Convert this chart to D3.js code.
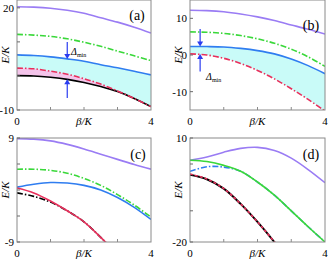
<!DOCTYPE html>
<html>
<head>
<meta charset="utf-8">
<script src="https://cdn.jsdelivr.net/npm/d3@7"></script>
<style>
  body { margin: 0; background: #fff; }
  svg { display: block; }
  text { font-family: "Liberation Serif", "DejaVu Serif", serif; fill: #000; }
</style>
</head>
<body>
<div id="viz"></div>
<script>
// beta/K sample points shared by every panel
var beta = [0, 0.5, 1, 1.5, 2, 2.5, 3, 3.5, 4];

// panel (a) energy levels E/K
var aPurple = [20.3, 20.2, 19.9, 19.3, 18.4, 17.1, 15.8, 14.3, 12.6];
var aGreen  = [12.2, 12.0, 11.6, 10.9, 9.9, 8.7, 7.3, 5.9, 4.5];
var aBlue   = [6.2, 6.0, 5.6, 5.0, 4.3, 3.3, 2.4, 1.4, 0.3];
var aRed    = [2.3, 2.1, 1.4, 0.5, -0.8, -2.4, -4.4, -6.6, -9.0];
var aBlack  = [0.1, 0.0, -0.4, -1.0, -1.9, -3.1, -4.6, -6.6, -9.0];

// panel (b)
var bPurple = [12.2, 12.1, 11.8, 11.2, 10.4, 9.4, 8.2, 7.0, 5.7];
var bGreen  = [6.3, 6.2, 5.9, 5.3, 4.4, 3.2, 1.6, -0.5, -3.1];
var bBlue   = [2.3, 2.3, 2.2, 1.8, 1.2, 0.3, -1.1, -2.9, -5.1];
var bRed    = [0.3, 0.0, -0.9, -2.3, -4.2, -6.5, -9.2, -12.1, -15.3];

// panel (c)
var cPurple = [8.9, 8.8, 8.5, 7.9, 7.1, 6.2, 5.3, 4.4, 3.6];
var cGreen  = [3.6, 3.6, 3.4, 2.9, 2.0, 0.8, -0.8, -2.6, -4.7];
var cBlue   = [0.5, 1.0, 1.3, 1.2, 0.8, 0.0, -1.3, -3.0, -5.1];
var cBlack  = [-0.5, -1.1, -2.1, -3.6, -5.5, -8.2, -11.2, -14.5, -18.0];
var cRed    = [0.35, -0.5, -1.9, -3.6, -5.5, -8.2, -11.2, -14.5, -18.0];

// panel (d)
var dPurple = [3.6, 4.5, 5.9, 7.0, 7.3, 6.4, 4.2, 0.9, -2.9];
var dBlue   = [0.4, 1.7, 1.6, 0.4, -2.7, -6.5, -11.0, -15.6, -20.0];
var dGreen  = [3.6, 3.2, 2.1, 0.4, -2.7, -6.5, -11.0, -15.6, -20.0];
var dBlack  = [-0.6, -1.9, -4.6, -9.0, -14.2, -20.0, -26.5, -33.5, -41.0];
var dRed    = [-0.4, -1.8, -4.6, -9.0, -14.2, -20.0, -26.5, -33.5, -41.0];

// axis ticks and labels
var aTicks = [20, 10, 0, -10], aLabels = [20, -10];
var bTicks = [10, 0, -10], bLabels = [10, 0, -10];
var cTicks = [9, 4.5, 0, -4.5, -9], cLabels = [9, -9];
var dTicks = [10, 2.5, -11, -20], dLabels = [10, -20];

// gap arrows: [beta, from E, to E]
var aArrows = [[1.5, 10, 5.0], [1.5, -6.5, -1.0]];
var bArrows = [[0.3, 7.1, 2.3], [0.3, -4.5, 0.3]];

var W = 328, H = 264;
var col = {
  purple: "#9a7cf4",
  green: "#3ad83a",
  blue: "#2f7df0",
  red: "#e8305c",
  black: "#000000",
  cyan: "#c9fbf8",
  pink: "#f4c4ea",
  arrow: "#2a3cf0"
};
var dashDot = "6,2,1.5,2";

var svg = d3.select("#viz").append("svg")
  .attr("width", W)
  .attr("height", H);

var panelId = 0;

function panel(cfg) {
  panelId++;
  var x = d3.scaleLinear().domain([0, 4]).range([cfg.x0, cfg.x1]);
  var y = d3.scaleLinear().domain(cfg.dom).range([cfg.y1, cfg.y0]);

  var g = svg.append("g");
  var clipId = "clip" + panelId;
  g.append("clipPath").attr("id", clipId)
    .append("rect")
    .attr("x", cfg.x0).attr("y", cfg.y0)
    .attr("width", cfg.x1 - cfg.x0).attr("height", cfg.y1 - cfg.y0);

  var plot = g.append("g").attr("clip-path", "url(#" + clipId + ")");

  // shaded bands
  (cfg.fills || []).forEach(function (f) {
    var area = d3.area()
      .curve(d3.curveCatmullRom.alpha(0.5))
      .x(function (d, i) { return x(beta[i]); })
      .y0(function (d, i) { return y(f.lo[i]); })
      .y1(function (d, i) { return y(f.hi[i]); });
    plot.append("path").datum(beta)
      .attr("d", area)
      .attr("fill", f.color)
      .attr("stroke", "none");
  });

  // energy curves
  var line = d3.line()
    .curve(d3.curveCatmullRom.alpha(0.5))
    .x(function (d, i) { return x(beta[i]); })
    .y(function (d) { return y(d); });

  cfg.series.forEach(function (s) {
    plot.append("path").datum(s.values)
      .attr("d", line)
      .attr("fill", "none")
      .attr("stroke", s.color)
      .attr("stroke-width", s.width || 1.6)
      .attr("stroke-dasharray", s.dash || null);
  });

  // arrows marking the minimum gap
  (cfg.arrows || []).forEach(function (a) {
    var ax = x(a[0]), yf = y(a[1]), yt = y(a[2]);
    var dir = yt > yf ? 1 : -1;
    plot.append("line")
      .attr("x1", ax).attr("x2", ax)
      .attr("y1", yf).attr("y2", yt - dir * 4)
      .attr("stroke", col.arrow)
      .attr("stroke-width", 1.2);
    plot.append("path")
      .attr("d", "M" + (ax - 3) + "," + (yt - dir * 5) + "L" + (ax + 3) + "," + (yt - dir * 5) + "L" + ax + "," + yt + "Z")
      .attr("fill", col.arrow);
  });

  // frame
  g.append("rect")
    .attr("x", cfg.x0).attr("y", cfg.y0)
    .attr("width", cfg.x1 - cfg.x0).attr("height", cfg.y1 - cfg.y0)
    .attr("fill", "none")
    .attr("stroke", "#8a8a8a")
    .attr("stroke-width", 1);

  // inner ticks on left axis
  cfg.ticks.forEach(function (t) {
    g.append("line")
      .attr("x1", cfg.x0).attr("x2", cfg.x0 + 3)
      .attr("y1", y(t)).attr("y2", y(t))
      .attr("stroke", "#6a6a6a");
  });
  [1, 2, 3].forEach(function (t) {
    g.append("line")
      .attr("x1", x(t)).attr("x2", x(t))
      .attr("y1", cfg.y1).attr("y2", cfg.y1 - 3)
      .attr("stroke", "#8a8a8a");
  });

  // y tick labels
  cfg.labels.forEach(function (t) {
    g.append("text")
      .attr("x", cfg.x0 - 3)
      .attr("y", y(t))
      .attr("dy", "0.35em")
      .attr("text-anchor", "end")
      .style("font-size", "11px")
      .text(t);
  });

  // x tick labels
  [0, 4].forEach(function (t) {
    g.append("text")
      .attr("x", x(t))
      .attr("y", cfg.y1 + 15)
      .attr("text-anchor", "middle")
      .style("font-size", "11px")
      .text(t);
  });

  // axis titles
  g.append("text")
    .attr("x", (cfg.x0 + cfg.x1) / 2)
    .attr("y", cfg.y1 + 15)
    .attr("text-anchor", "middle")
    .style("font-size", "11px")
    .style("font-style", "italic")
    .text("\u03b2/K");

  g.append("text")
    .attr("transform", "translate(" + (cfg.x0 - 8) + "," + ((cfg.y0 + cfg.y1) / 2) + ") rotate(-90)")
    .attr("text-anchor", "middle")
    .style("font-size", "11px")
    .style("font-style", "italic")
    .text("E/K");

  // panel tag
  g.append("text")
    .attr("x", cfg.tag[0])
    .attr("y", cfg.tag[1])
    .attr("dy", "0.35em")
    .attr("text-anchor", "middle")
    .style("font-size", "14px")
    .text(cfg.name);

  // gap label
  if (cfg.delta) {
    var dt = g.append("text")
      .attr("x", cfg.delta[0])
      .attr("y", cfg.delta[1])
      .style("font-size", "10px")
      .style("font-style", "italic");
    dt.append("tspan").text("\u0394");
    dt.append("tspan").attr("dy", 2).style("font-size", "6px").style("font-style", "normal").text("min");
  }
}

panel({
  name: "(a)", tag: [137, 15],
  x0: 17, x1: 151, y0: 0, y1: 110, dom: [-10, 22.3],
  ticks: aTicks, labels: aLabels,
  fills: [
    { lo: aRed, hi: aBlue, color: col.cyan },
    { lo: aBlack, hi: aRed, color: col.pink }
  ],
  series: [
    { values: aPurple, color: col.purple },
    { values: aGreen, color: col.green, dash: dashDot },
    { values: aBlue, color: col.blue },
    { values: aBlack, color: col.black },
    { values: aRed, color: col.red, dash: dashDot }
  ],
  arrows: aArrows,
  delta: [71, 55]
});

panel({
  name: "(b)", tag: [311, 25],
  x0: 190, x1: 325, y0: 0, y1: 110, dom: [-15, 15],
  ticks: bTicks, labels: bLabels,
  fills: [
    { lo: bRed, hi: bBlue, color: col.cyan }
  ],
  series: [
    { values: bPurple, color: col.purple },
    { values: bGreen, color: col.green, dash: dashDot },
    { values: bBlue, color: col.blue },
    { values: bRed, color: col.red, dash: dashDot }
  ],
  arrows: bArrows,
  delta: [206, 80]
});

panel({
  name: "(c)", tag: [138, 154],
  x0: 17, x1: 151, y0: 138, y1: 242, dom: [-9, 9],
  ticks: cTicks, labels: cLabels,
  series: [
    { values: cPurple, color: col.purple },
    { values: cGreen, color: col.green, dash: dashDot },
    { values: cBlue, color: col.blue },
    { values: cBlack, color: col.black, dash: dashDot },
    { values: cRed, color: col.red }
  ]
});

panel({
  name: "(d)", tag: [311, 154],
  x0: 190, x1: 325, y0: 138, y1: 242, dom: [-20, 10],
  ticks: dTicks, labels: dLabels,
  series: [
    { values: dPurple, color: col.purple },
    { values: dBlue, color: col.blue, dash: dashDot },
    { values: dGreen, color: col.green },
    { values: dBlack, color: col.black, width: 2 },
    { values: dRed, color: col.red, dash: "3,2" }
  ]
});
</script>
</body>
</html>
